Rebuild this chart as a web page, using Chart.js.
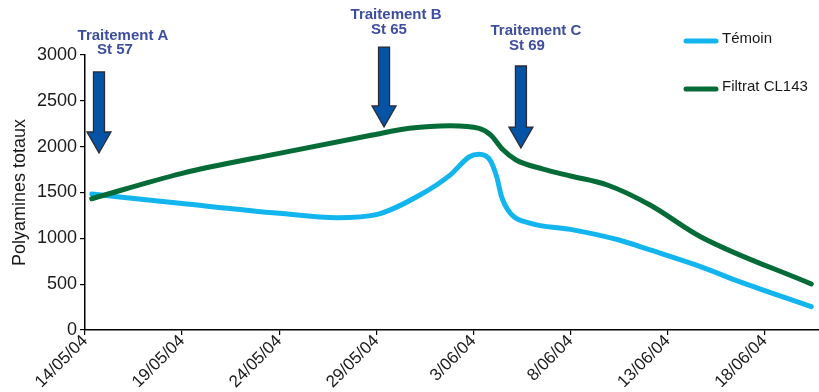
<!DOCTYPE html>
<html>
<head>
<meta charset="utf-8">
<script src="https://cdn.jsdelivr.net/npm/chart.js@4/dist/chart.umd.min.js"></script>
<style>
  html, body { margin: 0; padding: 0; background: #fff; }
  #wrap { width: 819px; height: 392px; position: relative; }
</style>
</head>
<body>
<div id="wrap"><canvas id="c"></canvas></div>
<script>
// Days counted from 14/05/04
const dateLabels = ['14/05/04', '19/05/04', '24/05/04', '29/05/04', '3/06/04', '8/06/04', '13/06/04', '18/06/04'];
const yTicks = [0, 500, 1000, 1500, 2000, 2500, 3000];

const temoinDays = [0.35, 5, 10, 13, 15, 17.25, 18.8, 19.8, 20.3, 20.85, 21.2, 21.45, 21.9, 22.9, 25, 27.5, 29.1, 31.7, 33.7, 37.4];
const temoinValues = [1484, 1380, 1273, 1225, 1258, 1473, 1690, 1890, 1916, 1855, 1673, 1455, 1276, 1167, 1098, 982, 873, 691, 527, 254];

const filtratDays = [0.35, 5, 10, 14.8, 16.7, 18.8, 20.3, 20.9, 21.5, 22.2, 23.6, 25, 26.9, 29.1, 31.7, 37.4];
const filtratValues = [1432, 1709, 1927, 2127, 2200, 2229, 2200, 2127, 1971, 1855, 1755, 1680, 1582, 1364, 1018, 502];

// Treatments: day of application, arrow top and tip (in axis units)
const treatNames = ['Traitement A', 'Traitement B', 'Traitement C'];
const treatStages = ['St 57', 'St 65', 'St 69'];
const treatDays = [0.72, 15.4, 22.45];
const arrowTop = [2815, 3087, 2880];
const arrowTip = [1931, 2215, 1985];

const FONT = '"Liberation Sans", Arial, Helvetica, sans-serif';
const TEXT = '#1a1a1a';

function pts(xs, ys) { return xs.map((x, i) => ({ x: x, y: ys[i] })); }

const treatmentPlugin = {
  id: 'treatments',
  afterDraw(chart) {
    const ctx = chart.ctx;
    const xs = chart.scales.x, ys = chart.scales.y;
    // label offsets relative to the arrow (line 1, line 2)
    const lab = [
      { dx1: 24, dy1: -36, dx2: 16, dy2: -22 },
      { dx1: 12, dy1: -32, dx2: 5, dy2: -17 },
      { dx1: 15, dy1: -35, dx2: 6, dy2: -20 }
    ];
    ctx.save();
    treatDays.forEach((d, i) => {
      const cx = xs.getPixelForValue(d);
      const top = ys.getPixelForValue(arrowTop[i]);
      const tip = ys.getPixelForValue(arrowTip[i]);
      const headH = 21, shaftW = 11, headW = 24;
      const hy = tip - headH;
      ctx.beginPath();
      ctx.moveTo(cx - shaftW / 2, top);
      ctx.lineTo(cx + shaftW / 2, top);
      ctx.lineTo(cx + shaftW / 2, hy);
      ctx.lineTo(cx + headW / 2, hy);
      ctx.lineTo(cx, tip);
      ctx.lineTo(cx - headW / 2, hy);
      ctx.lineTo(cx - shaftW / 2, hy);
      ctx.closePath();
      ctx.fillStyle = '#0553a5';
      ctx.fill();
      ctx.lineWidth = 1.3;
      ctx.strokeStyle = '#2b2b33';
      ctx.stroke();

      ctx.fillStyle = '#3d4ea0';
      ctx.font = 'bold 15px ' + FONT;
      ctx.textAlign = 'center';
      ctx.textBaseline = 'middle';
      ctx.fillText(treatNames[i], cx + lab[i].dx1, top + lab[i].dy1);
      ctx.fillText(treatStages[i], cx + lab[i].dx2, top + lab[i].dy2);
    });
    ctx.restore();
  }
};

const legendPlugin = {
  id: 'sideLegend',
  afterDraw(chart) {
    const ctx = chart.ctx;
    const rows = [41, 89];
    ctx.save();
    chart.data.datasets.forEach((ds, i) => {
      const y = rows[i];
      ctx.beginPath();
      ctx.moveTo(686, y);
      ctx.lineTo(716, y);
      ctx.lineWidth = 5;
      ctx.lineCap = 'round';
      ctx.strokeStyle = ds.borderColor;
      ctx.stroke();
      ctx.fillStyle = TEXT;
      ctx.font = '15px ' + FONT;
      ctx.textAlign = 'left';
      ctx.textBaseline = 'middle';
      ctx.fillText(ds.label, 722, y - 2);
    });
    ctx.restore();
  }
};

new Chart(document.getElementById('c'), {
  type: 'line',
  data: {
    datasets: [
      {
        label: 'Témoin',
        data: pts(temoinDays, temoinValues),
        borderColor: '#12b5ee',
        borderWidth: 5,
        borderCapStyle: 'round',
        pointRadius: 0,
        cubicInterpolationMode: 'monotone',
        fill: false,
        order: 2
      },
      {
        label: 'Filtrat CL143',
        data: pts(filtratDays, filtratValues),
        borderColor: '#056b37',
        borderWidth: 5,
        borderCapStyle: 'round',
        pointRadius: 0,
        cubicInterpolationMode: 'monotone',
        fill: false,
        order: 1
      }
    ]
  },
  options: {
    responsive: true,
    maintainAspectRatio: false,
    animation: false,
    events: [],
    layout: { padding: { top: 55, right: 0, left: 0, bottom: 0 } },
    plugins: { legend: { display: false }, tooltip: { enabled: false } },
    scales: {
      x: {
        type: 'linear',
        min: 0,
        max: 37.8,
        afterBuildTicks(scale) {
          scale.ticks = dateLabels.map((_, i) => ({ value: i * 5 }));
        },
        afterFit(scale) { scale.height = 62; },
        grid: { drawOnChartArea: false, drawTicks: true, tickLength: 5, color: '#000', lineWidth: 1.2 },
        border: { color: '#000', width: 1.5 },
        ticks: {
          autoSkip: false,
          minRotation: 45,
          maxRotation: 45,
          padding: -4,
          color: TEXT,
          font: { family: FONT, size: 17 },
          callback: (v) => dateLabels[Math.round(v / 5)]
        }
      },
      y: {
        min: 0,
        max: 3000,
        afterBuildTicks(scale) {
          scale.ticks = yTicks.map(v => ({ value: v }));
        },
        afterFit(scale) { scale.width = 85; },
        grid: { drawOnChartArea: false, drawTicks: true, tickLength: 5, color: '#000', lineWidth: 1.2 },
        border: { color: '#000', width: 1.5 },
        title: {
          display: true,
          text: 'Polyamines totaux',
          color: TEXT,
          font: { family: FONT, size: 18 },
          padding: { top: 9, bottom: 0 }
        },
        ticks: {
          padding: 3,
          color: TEXT,
          font: { family: FONT, size: 18 },
          callback: (v) => String(v)
        }
      }
    }
  },
  plugins: [treatmentPlugin, legendPlugin]
});
</script>
</body>
</html>
